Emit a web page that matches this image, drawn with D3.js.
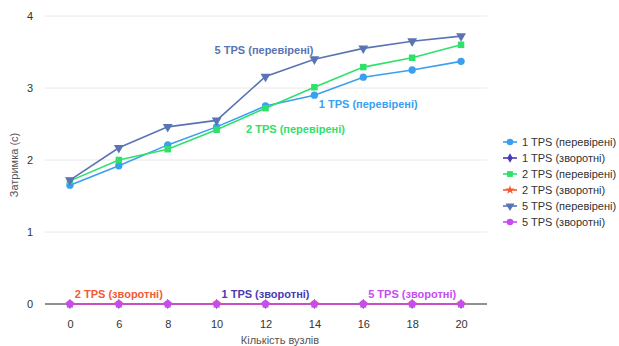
<!DOCTYPE html>
<html><head><meta charset="utf-8">
<script src="https://cdn.jsdelivr.net/npm/d3@7"></script>
<style>body{margin:0;background:#fff;font-family:"Helvetica Neue",Arial,"Liberation Sans",sans-serif;}</style>
</head><body><svg id="c" width="619" height="346"></svg>
<script>
const categories = ["0","6","8","10","12","14","16","18","20"];
const seriesNames = ["1 TPS (перевірені)","1 TPS (зворотні)","2 TPS (перевірені)","2 TPS (зворотні)","5 TPS (перевірені)","5 TPS (зворотні)"];
const tps1Verified = [1.65,1.92,2.21,2.46,2.75,2.90,3.15,3.25,3.37];
const tps1Reverse  = [0,0,0,0,0,0,0,0,0];
const tps2Verified = [1.71,2.00,2.15,2.42,2.72,3.01,3.29,3.42,3.60];
const tps2Reverse  = [0,0,0,0,0,0,0,0,0];
const tps5Verified = [1.72,2.17,2.46,2.55,3.16,3.40,3.55,3.65,3.72];
const tps5Reverse  = [0,0,0,0,0,0,0,0,0];
const yTicks = [0,1,2,3,4];
const colors = ["#3a9ff0","#4a3bb5","#2fe06a","#f25a35","#5a74b3","#c64cf0"];
const symbols = [d3.symbolCircle,d3.symbolDiamond,d3.symbolSquare,d3.symbolStar,d3.symbolTriangle,d3.symbolCircle];
const series = [tps1Verified,tps1Reverse,tps2Verified,tps2Reverse,tps5Verified,tps5Reverse];
const annotations = [
  {s:4, i:4, dx:48, dy:-22, anchor:"end"},
  {s:0, i:6, dx:5, dy:31, anchor:"middle"},
  {s:2, i:4, dx:30, dy:25, anchor:"middle"},
  {s:3, i:1, dy:-6},
  {s:1, i:4, dy:-6},
  {s:5, i:7, dy:-6}
];

const svg = d3.select("#c");
const x = d3.scalePoint().domain(categories).range([45.5,485.5]).padding(0.5);
const y = d3.scaleLinear().domain([0,4]).range([304,16]);

// grid
svg.append("g").selectAll("line").data(yTicks.filter(t=>t>0)).join("line")
  .attr("x1",45).attr("x2",487).attr("y1",d=>y(d)).attr("y2",d=>y(d))
  .attr("stroke","#e8e8e8").attr("stroke-width",1);
svg.append("line").attr("x1",45).attr("x2",487).attr("y1",y(0)).attr("y2",y(0))
  .attr("stroke","#222").attr("stroke-width",1);

// y ticks
const ya = svg.append("g").attr("transform","translate(34,0)").call(d3.axisLeft(y).tickValues(yTicks).tickSize(0).tickFormat(d3.format("d")));
ya.select(".domain").remove();
ya.selectAll("text").attr("font-size",11).attr("fill","#333").attr("font-family","Helvetica Neue,Arial,Liberation Sans,sans-serif").attr("dx",0).attr("text-anchor","middle").attr("x",-4);
// x ticks
const xa = svg.append("g").attr("transform","translate(0,317)").call(d3.axisBottom(x).tickSize(0));
xa.select(".domain").remove();
xa.selectAll("text").attr("font-size",11).attr("fill","#333").attr("font-family","Helvetica Neue,Arial,Liberation Sans,sans-serif");

svg.append("text").attr("x",280).attr("y",344).attr("text-anchor","middle").attr("font-size",11).attr("fill","#555").text("Кількість вузлів");
svg.append("text").attr("transform","translate(18,165) rotate(-90)").attr("text-anchor","middle").attr("font-size",11).attr("fill","#555").text("Затримка (с)");

const line = d3.line().x((d,i)=>x(categories[i])).y(d=>y(d));
series.forEach((vals,si)=>{
  const g = svg.append("g");
  g.append("path").attr("d",line(vals)).attr("fill","none").attr("stroke",colors[si]).attr("stroke-width",1.6);
  g.selectAll("path.m").data(vals).join("path").attr("class","m")
    .attr("transform",(d,i)=>`translate(${x(categories[i])},${y(d)})${symbols[si]===d3.symbolTriangle?" rotate(180)":""}`)
    .attr("d",d3.symbol().type(symbols[si]).size(si===1||si===3?30:42))
    .attr("fill",colors[si]);
});

annotations.forEach(a=>{
  const cx = x(categories[a.i]) + (a.dx||0);
  const cy = y(series[a.s][a.i]) + a.dy;
  svg.append("text").attr("x",cx).attr("y",cy).attr("text-anchor",a.anchor||"middle")
    .attr("font-size",11).attr("font-weight","bold").attr("fill",colors[a.s]).text(seriesNames[a.s]);
});

// legend
const lg = svg.append("g").attr("transform","translate(510,142)");
seriesNames.forEach((n,i)=>{
  const r = lg.append("g").attr("transform",`translate(0,${i*16})`);
  r.append("line").attr("x1",-7).attr("x2",7).attr("stroke",colors[i]).attr("stroke-width",1.6);
  r.append("path").attr("d",d3.symbol().type(symbols[i]).size(i===1||i===3?26:34)).attr("fill",colors[i])
    .attr("transform",symbols[i]===d3.symbolTriangle?"rotate(180)":"");
  r.append("text").attr("x",12).attr("y",4).attr("font-size",11).attr("fill","#333").text(n);
});
</script></body></html>
